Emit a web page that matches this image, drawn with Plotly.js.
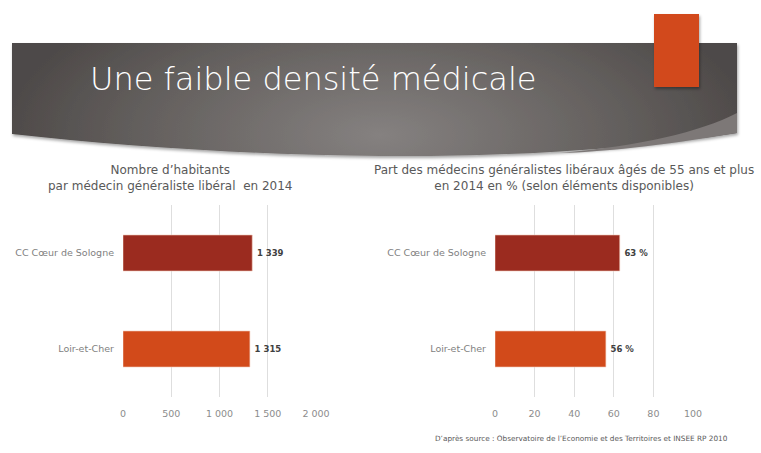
<!DOCTYPE html>
<html>
<head>
<meta charset="utf-8">
<script src="https://cdn.plot.ly/plotly-3.0.1.min.js"></script>
<style>html,body{margin:0;padding:0;background:#fff}#chart{width:761px;height:453px}</style>
</head>
<body>
<div id="chart"></div>
<script>
// ---- data ----
const categories = ["CC Cœur de Sologne", "Loir-et-Cher"];
const habitantsParMedecin = [1339, 1315];
const partMedecins55Plus = [63, 56];
const habitantsTicks = [0, 500, 1000, 1500, 2000];
const habitantsTickLabels = ["0", "500", "1 000", "1 500", "2 000"];
const partTicks = [0, 20, 40, 60, 80, 100];
const barColors = ["#9b2b1f", "#d24a1a"];

const W = 761, H = 453;
const px = x => x / W;
const py = y => 1 - y / H;

function fmtThousands(v) {
  return String(v).replace(/\B(?=(\d{3})+(?!\d))/g, " ");
}

const FONT = "DejaVu Sans";

const bannerSvg =
  '<svg xmlns="http://www.w3.org/2000/svg" width="761" height="453" viewBox="0 0 761 453">' +
  '<defs>' +
  '<radialGradient id="g" cx="380" cy="135" r="380" gradientUnits="userSpaceOnUse" gradientTransform="translate(380 135) scale(1 0.45) translate(-380 -135)">' +
  '<stop offset="0" stop-color="#858180"/><stop offset="0.6" stop-color="#65615f"/><stop offset="1" stop-color="#4d4948"/>' +
  '</radialGradient>' +
  '<filter id="s" x="-10%" y="-10%" width="130%" height="130%"><feDropShadow dx="1" dy="2" stdDeviation="1.5" flood-color="#000" flood-opacity="0.35"/></filter>' +
  '</defs>' +
  '<path d="M12,43 L737,43 L737,133 C620,152 480,157 380,156 C250,155 120,146 12,134 Z" fill="url(#g)" filter="url(#s)"/>' +
  '<path d="M560,153 C640,146 700,132 737,113 L737,133 C660,146 600,152 560,153 Z" fill="#7d7877"/>' +
  '<rect x="654" y="14" width="45" height="73" fill="#d24a1a" filter="url(#s)"/>' +
  '</svg>';

const traces = [
  {
    type: "bar",
    orientation: "h",
    x: habitantsParMedecin,
    y: categories,
    xaxis: "x",
    yaxis: "y",
    width: 0.375,
    marker: { color: barColors, line: { color: "#f2c9b8", width: 0.6 } },
    text: habitantsParMedecin.map(v => "\u2009" + fmtThousands(v)),
    textposition: "outside",
    cliponaxis: false,
    textfont: { family: FONT, size: 8.5, color: "#404040", weight: "bold" },
    hoverinfo: "x+y"
  },
  {
    type: "bar",
    orientation: "h",
    x: partMedecins55Plus,
    y: categories,
    xaxis: "x2",
    yaxis: "y2",
    width: 0.375,
    marker: { color: barColors, line: { color: "#f2c9b8", width: 0.6 } },
    text: partMedecins55Plus.map(v => "\u2009" + v + " %"),
    textposition: "outside",
    cliponaxis: false,
    textfont: { family: FONT, size: 8.5, color: "#404040", weight: "bold" },
    hoverinfo: "x+y"
  }
];

const yDom = [py(397), py(205)];
const axisCommon = {
  showline: false, zeroline: false, showgrid: true,
  gridcolor: "#dedede", gridwidth: 1, ticks: "",
  tickfont: { family: FONT, size: 9.5, color: "#8c8c8c" },
  fixedrange: true
};
const yCommon = {
  autorange: "reversed", showline: false, showgrid: false, zeroline: false,
  ticks: "", ticklabelstandoff: 8,
  tickfont: { family: FONT, size: 9.5, color: "#7f7f7f" },
  domain: yDom, fixedrange: true
};

const annFont = { family: FONT, size: 12, color: "#595959" };

const layout = {
  width: W, height: H,
  margin: { l: 0, r: 0, t: 0, b: 0 },
  paper_bgcolor: "#ffffff",
  plot_bgcolor: "rgba(0,0,0,0)",
  showlegend: false,
  bargap: 0.625,
  xaxis: Object.assign({}, axisCommon, {
    domain: [px(123), px(316)], range: [0, 2000], anchor: "y",
    tickvals: habitantsTicks, ticktext: habitantsTickLabels, ticklabelstandoff: 9
  }),
  yaxis: Object.assign({}, yCommon, { anchor: "x" }),
  xaxis2: Object.assign({}, axisCommon, {
    domain: [px(495), px(693)], range: [0, 100], anchor: "y2",
    tickvals: partTicks, ticklabelstandoff: 9
  }),
  yaxis2: Object.assign({}, yCommon, { anchor: "x2" }),
  images: [{
    source: "data:image/svg+xml;charset=utf-8," + encodeURIComponent(bannerSvg),
    xref: "paper", yref: "paper", x: 0, y: 1, sizex: 1, sizey: 1,
    xanchor: "left", yanchor: "top", sizing: "stretch", layer: "below"
  }],
  annotations: [
    {
      text: "Une faible densité médicale", xref: "paper", yref: "paper",
      x: px(88), y: py(79), xanchor: "left", yanchor: "middle", showarrow: false,
      font: { family: FONT, size: 32, color: "#ffffff", weight: 200 }
    },
    {
      text: "Nombre d’habitants<br>par médecin généraliste libéral  en 2014",
      xref: "paper", yref: "paper", x: px(170), y: py(178),
      xanchor: "center", yanchor: "middle", showarrow: false, font: annFont
    },
    {
      text: "Part des médecins généralistes libéraux âgés de 55 ans et plus<br>en 2014 en % (selon éléments disponibles)",
      xref: "paper", yref: "paper", x: px(564), y: py(178),
      xanchor: "center", yanchor: "middle", showarrow: false, font: annFont
    },
    {
      text: "D’après source : Observatoire de l’Economie et des Territoires et INSEE RP 2010",
      xref: "paper", yref: "paper", x: px(433), y: py(438),
      xanchor: "left", yanchor: "middle", showarrow: false,
      font: { family: FONT, size: 7.3, color: "#595959" }
    }
  ]
};

Plotly.newPlot("chart", traces, layout, { displayModeBar: false, staticPlot: true });
</script>
</body>
</html>
